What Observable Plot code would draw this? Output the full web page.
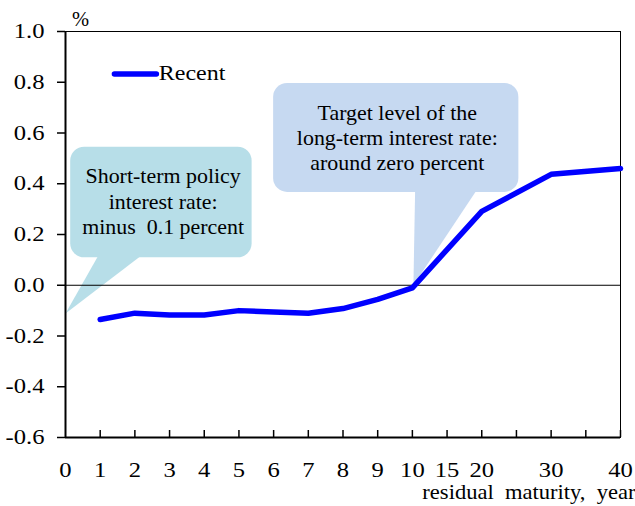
<!DOCTYPE html>
<html>
<head>
<meta charset="utf-8">
<script src="https://cdn.jsdelivr.net/npm/d3@7"></script>
<script src="https://cdn.jsdelivr.net/npm/@observablehq/plot@0.6"></script>
<style>
  html, body { margin: 0; padding: 0; background: #fff; }
  svg text { white-space: pre; font-family: "Liberation Serif", "Times New Roman", serif !important; }
</style>
</head>
<body>
<div id="chart"></div>
<script>
// Residual maturities (years) and yields (%)
const maturities = [1, 2, 3, 4, 5, 6, 7, 8, 9, 10, 20, 30, 40];
const yields = [-0.135, -0.11, -0.117, -0.117, -0.10, -0.105, -0.11, -0.092, -0.056, -0.01, 0.291, 0.437, 0.46];
const seriesName = "Recent";

// x tick labels (maturities) and y ticks
const xTickMaturities = [0, 1, 2, 3, 4, 5, 6, 7, 8, 9, 10, 15, 20, 30, 40];
const xTickMarks = [1, 2, 3, 4, 5, 6, 7, 8, 9, 10, 11, 12, 13, 14, 15, 16]; // axis positions
const yTicks = [-0.6, -0.4, -0.2, 0.0, 0.2, 0.4, 0.6, 0.8, 1.0];

// annotation texts
const noteShort = "Short-term policy\ninterest rate:\nminus  0.1 percent";
const noteLong = "Target level of the\nlong-term interest rate:\naround zero percent";
const xTitle = "residual  maturity,  year";
const yUnit = "%";

// piecewise axis position: 0-10 one step per year, 10-40 one step per 5 years
const pos = m => m <= 10 ? m : 10 + (m - 10) / 5;

const data = maturities.map((m, i) => ({p: pos(m), v: yields[i]}));

// callout geometry in axis units (position, %)
const boxShort = [{x1: 0.15, x2: 5.38, y1: 0.108, y2: 0.544}];
const tailShort = [{x: 1.0, y: 0.13}, {x: 0.0, y: -0.111}, {x: 2.31, y: 0.13}];
const boxLong = [{x1: 6.0, x2: 13.07, y1: 0.366, y2: 0.795}];
const tailLong = [{x: 10.08, y: 0.38}, {x: 10.03, y: 0.0}, {x: 11.88, y: 0.38}];
const legendLine = [{x: 1.41, y: 0.833}, {x: 2.62, y: 0.833}];

const fs = 20.5;
const font = "'Liberation Serif', 'Times New Roman', serif";

const chart = Plot.plot({
  width: 635,
  height: 506,
  marginLeft: 65,
  marginRight: 15,
  marginTop: 31,
  marginBottom: 69,
  style: {fontFamily: font, fontSize: fs + "px", background: "#fff", color: "#000"},
  x: {type: "linear", domain: [0, 16]},
  y: {type: "linear", domain: [-0.6, 1.0]},
  marks: [
    // callouts
    Plot.rect(boxShort, {x1: "x1", x2: "x2", y1: "y1", y2: "y2", fill: "#b7dee8", rx: 14}),
    Plot.line(tailShort, {x: "x", y: "y", fill: "#b7dee8", stroke: "none", curve: "linear-closed"}),
    Plot.rect(boxLong, {x1: "x1", x2: "x2", y1: "y1", y2: "y2", fill: "#c6d9f1", rx: 14}),
    Plot.line(tailLong, {x: "x", y: "y", fill: "#c6d9f1", stroke: "none", curve: "linear-closed"}),
    Plot.text([noteShort], {x: (boxShort[0].x1 + boxShort[0].x2) / 2 + 0.05, y: (boxShort[0].y1 + boxShort[0].y2) / 2, text: d => d, fontSize: fs, lineHeight: 1.24, dy: -2}),
    Plot.text([noteLong], {x: (boxLong[0].x1 + boxLong[0].x2) / 2 + 0.03, y: (boxLong[0].y1 + boxLong[0].y2) / 2, text: d => d, fontSize: fs, lineHeight: 1.24, dy: -1}),
    // zero line and frame
    Plot.ruleY([0], {stroke: "#000", strokeWidth: 1}),
    Plot.frame({stroke: "#000", strokeWidth: 1}),
    Plot.ruleX([0], {stroke: "#000", strokeWidth: 2}),
    Plot.ruleY([-0.6], {stroke: "#000", strokeWidth: 2}),
    // axes
    Plot.axisY({ticks: yTicks, tickSize: 8, tickPadding: 13, tickFormat: d => d.toFixed(1), fontSize: fs, label: null, strokeWidth: 1.5, fontFamily: font}),
    Plot.axisX({ticks: xTickMaturities.map(pos), tickSize: 0, tickPadding: 25, tickFormat: p => String(xTickMaturities[xTickMaturities.map(pos).indexOf(p)]), fontSize: fs, label: null, fontFamily: font}),
    Plot.tickX(xTickMarks, {x: d => d, stroke: "#000", strokeWidth: 1.5, insetTop: 399}),
    // series
    Plot.line(data, {x: "p", y: "v", stroke: "#0000ff", strokeWidth: 5.5, strokeLinejoin: "round", strokeLinecap: "round"}),
    // legend
    Plot.line(legendLine, {x: "x", y: "y", stroke: "#0000ff", strokeWidth: 5.5, strokeLinecap: "round"}),
    Plot.text([seriesName], {x: 2.69, y: 0.833, text: d => d, textAnchor: "start", fontSize: fs, fontFamily: font}),
    // unit and axis title
    Plot.text([yUnit], {x: 0.43, y: 1.0, text: d => d, fontSize: fs, dy: -12, fontFamily: font}),
    Plot.text([xTitle], {frameAnchor: "bottom-right", text: d => d, textAnchor: "end", fontSize: fs, dx: 15, dy: 61, fontFamily: font})
  ]
});
// reference glyphs are horizontally widened (numbers more than words); scale each text around its own anchor
chart.querySelectorAll("text").forEach(t => {
  const s = t.textContent;
  let k = 1.1;
  if (/^-?[\d.]+$/.test(s)) k = 1.2;
  else if (s === seriesName) k = 1.17;
  else if (s === yUnit) k = 1.0;
  else if (t.querySelector("tspan")) k = 1.07;
  const tr = t.getAttribute("transform") || "";
  t.setAttribute("transform", `${tr} scale(${k},1)`);
});
document.getElementById("chart").appendChild(chart);
</script>
</body>
</html>
